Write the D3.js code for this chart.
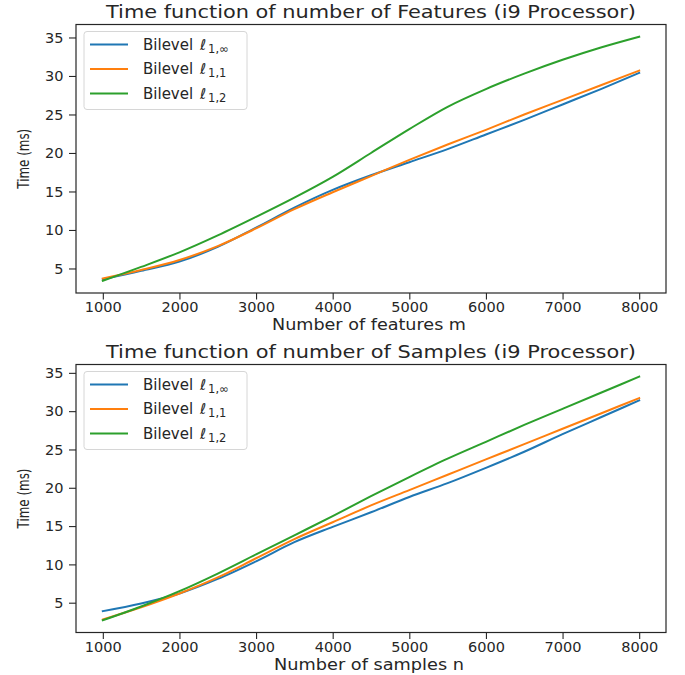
<!DOCTYPE html>
<html>
<head>
<meta charset="utf-8">
<script src="https://cdn.jsdelivr.net/npm/d3@7"></script>
<style>
  html, body { margin: 0; padding: 0; background: #fff; }
  svg { display: block; font-family: "DejaVu Sans", sans-serif; }
</style>
</head>
<body>
<svg id="chart" width="685" height="675"></svg>
<script>
// Problem sizes (features m / samples n)
const sizes = [1000, 1500, 2000, 2500, 3000, 3500, 4000, 4500, 5000, 5500, 6000, 6500, 7000, 7500, 8000];

// Run time (ms) as a function of the number of features m
const featInf = [3.6, 4.7, 5.9, 7.8, 10.3, 12.9, 15.2, 17.1, 18.8, 20.5, 22.4, 24.3, 26.3, 28.3, 30.4];
const featOne = [3.7, 4.8, 6.1, 7.9, 10.2, 12.7, 14.9, 17.0, 19.1, 21.1, 23.0, 25.0, 26.9, 28.8, 30.7];
const featTwo = [3.4, 5.2, 7.1, 9.3, 11.7, 14.2, 16.9, 20.0, 23.1, 26.0, 28.3, 30.3, 32.1, 33.7, 35.1];

// Run time (ms) as a function of the number of samples n
const sampInf = [3.9, 4.9, 6.2, 8.1, 10.4, 12.9, 14.9, 16.8, 18.8, 20.6, 22.6, 24.7, 27.0, 29.2, 31.4];
const sampOne = [2.8, 4.4, 6.2, 8.3, 10.8, 13.3, 15.5, 17.7, 19.7, 21.7, 23.7, 25.7, 27.7, 29.7, 31.7];
const sampTwo = [2.7, 4.5, 6.5, 8.8, 11.3, 13.8, 16.3, 18.9, 21.4, 23.8, 26.0, 28.2, 30.3, 32.4, 34.5];

// Tick labels
const xTicks = [1000, 2000, 3000, 4000, 5000, 6000, 7000, 8000];
const yTicks = [5, 10, 15, 20, 25, 30, 35];

// Legend subscripts for "Bilevel ℓ1,q"
const seriesSubs = ["1,∞", "1,1", "1,2"];
const seriesColors = ["#1f77b4", "#ff7f0e", "#2ca02c"];

const panels = [
  { title: "Time function of number of Features (i9 Processor)",
    xLabel: "Number of features m", series: [featInf, featOne, featTwo],
    top: 24.5, bottom: 293 },
  { title: "Time function of number of Samples (i9 Processor)",
    xLabel: "Number of samples n", series: [sampInf, sampOne, sampTwo],
    top: 364.5, bottom: 632.5 }
];

const svg = d3.select("#chart");
const left = 76, right = 666;
const ink = "#262626";

// matplotlib-style 5% margins around the data range
function padded(lo, hi) {
  const m = (hi - lo) * 0.05;
  return [lo - m, hi + m];
}

panels.forEach(p => {
  const g = svg.append("g");
  const x = d3.scaleLinear().domain(padded(d3.min(sizes), d3.max(sizes))).range([left, right]);
  const allY = p.series.flat();
  const y = d3.scaleLinear().domain(padded(d3.min(allY), d3.max(allY))).range([p.bottom, p.top]);

  // series lines
  const line = d3.line().x((d, i) => x(sizes[i])).y(d => y(d)).curve(d3.curveMonotoneX);
  p.series.forEach((s, k) => {
    g.append("path").datum(s)
      .attr("d", line)
      .attr("fill", "none")
      .attr("stroke", seriesColors[k])
      .attr("stroke-width", 2)
      .attr("stroke-linejoin", "round")
      .attr("stroke-linecap", "square");
  });

  // axes
  const xAxis = g.append("g").attr("transform", `translate(0,${p.bottom})`)
    .call(d3.axisBottom(x).tickValues(xTicks).tickFormat(d3.format("d")).tickSize(6.5).tickPadding(2.5));
  const yAxis = g.append("g").attr("transform", `translate(${left},0)`)
    .call(d3.axisLeft(y).tickValues(yTicks).tickFormat(d3.format("d")).tickSize(7).tickPadding(5.5));
  [xAxis, yAxis].forEach(a => {
    a.select(".domain").remove();
    a.selectAll("line").attr("stroke", ink).attr("stroke-width", 1.1);
    a.selectAll("text").attr("fill", ink).style("font-size", "14.5px").style("font-family", "DejaVu Sans");
  });

  // frame
  g.append("rect")
    .attr("x", left).attr("y", p.top)
    .attr("width", right - left).attr("height", p.bottom - p.top)
    .attr("fill", "none").attr("stroke", ink).attr("stroke-width", 1.2);

  // titles and labels
  g.append("text")
    .attr("x", (left + right) / 2).attr("y", p.top - 6.5)
    .attr("text-anchor", "middle").attr("fill", ink)
    .attr("textLength", p.title.length > 50 ? 537 : 530).attr("lengthAdjust", "spacingAndGlyphs")
    .style("font-size", "17.5px")
    .text(p.title);
  g.append("text")
    .attr("x", (left + right) / 2 - 2).attr("y", p.bottom + 37)
    .attr("text-anchor", "middle").attr("fill", ink)
    .attr("textLength", p.xLabel.length > 19 ? 194 : 190).attr("lengthAdjust", "spacingAndGlyphs")
    .style("font-size", "15px")
    .text(p.xLabel);
  g.append("text")
    .attr("transform", `translate(29,${(p.top + p.bottom) / 2}) rotate(-90)`)
    .attr("text-anchor", "middle").attr("fill", ink)
    .attr("textLength", 60).attr("lengthAdjust", "spacingAndGlyphs")
    .style("font-size", "15px")
    .text("Time (ms)");

  // legend
  const lg = g.append("g").attr("transform", `translate(84,${p.top + 7})`);
  lg.append("rect")
    .attr("width", 163).attr("height", 78).attr("rx", 3)
    .attr("fill", "#fff").attr("fill-opacity", 0.8)
    .attr("stroke", "#d6d6d6").attr("stroke-width", 1);
  seriesSubs.forEach((sub, k) => {
    const cy = 13 + k * 24.5;
    lg.append("line")
      .attr("x1", 6).attr("x2", 44).attr("y1", cy).attr("y2", cy)
      .attr("stroke", seriesColors[k]).attr("stroke-width", 2);
    const t = lg.append("text")
      .attr("x", 59).attr("y", cy + 5)
      .attr("fill", ink).style("font-size", "15px");
    t.append("tspan").text("Bilevel ");
    t.append("tspan").attr("dx", 2).style("font-style", "italic").text("ℓ");
    t.append("tspan").attr("dx", 2).attr("dy", 3).style("font-size", "11.5px").text(sub);
  });
});
</script>
</body>
</html>
